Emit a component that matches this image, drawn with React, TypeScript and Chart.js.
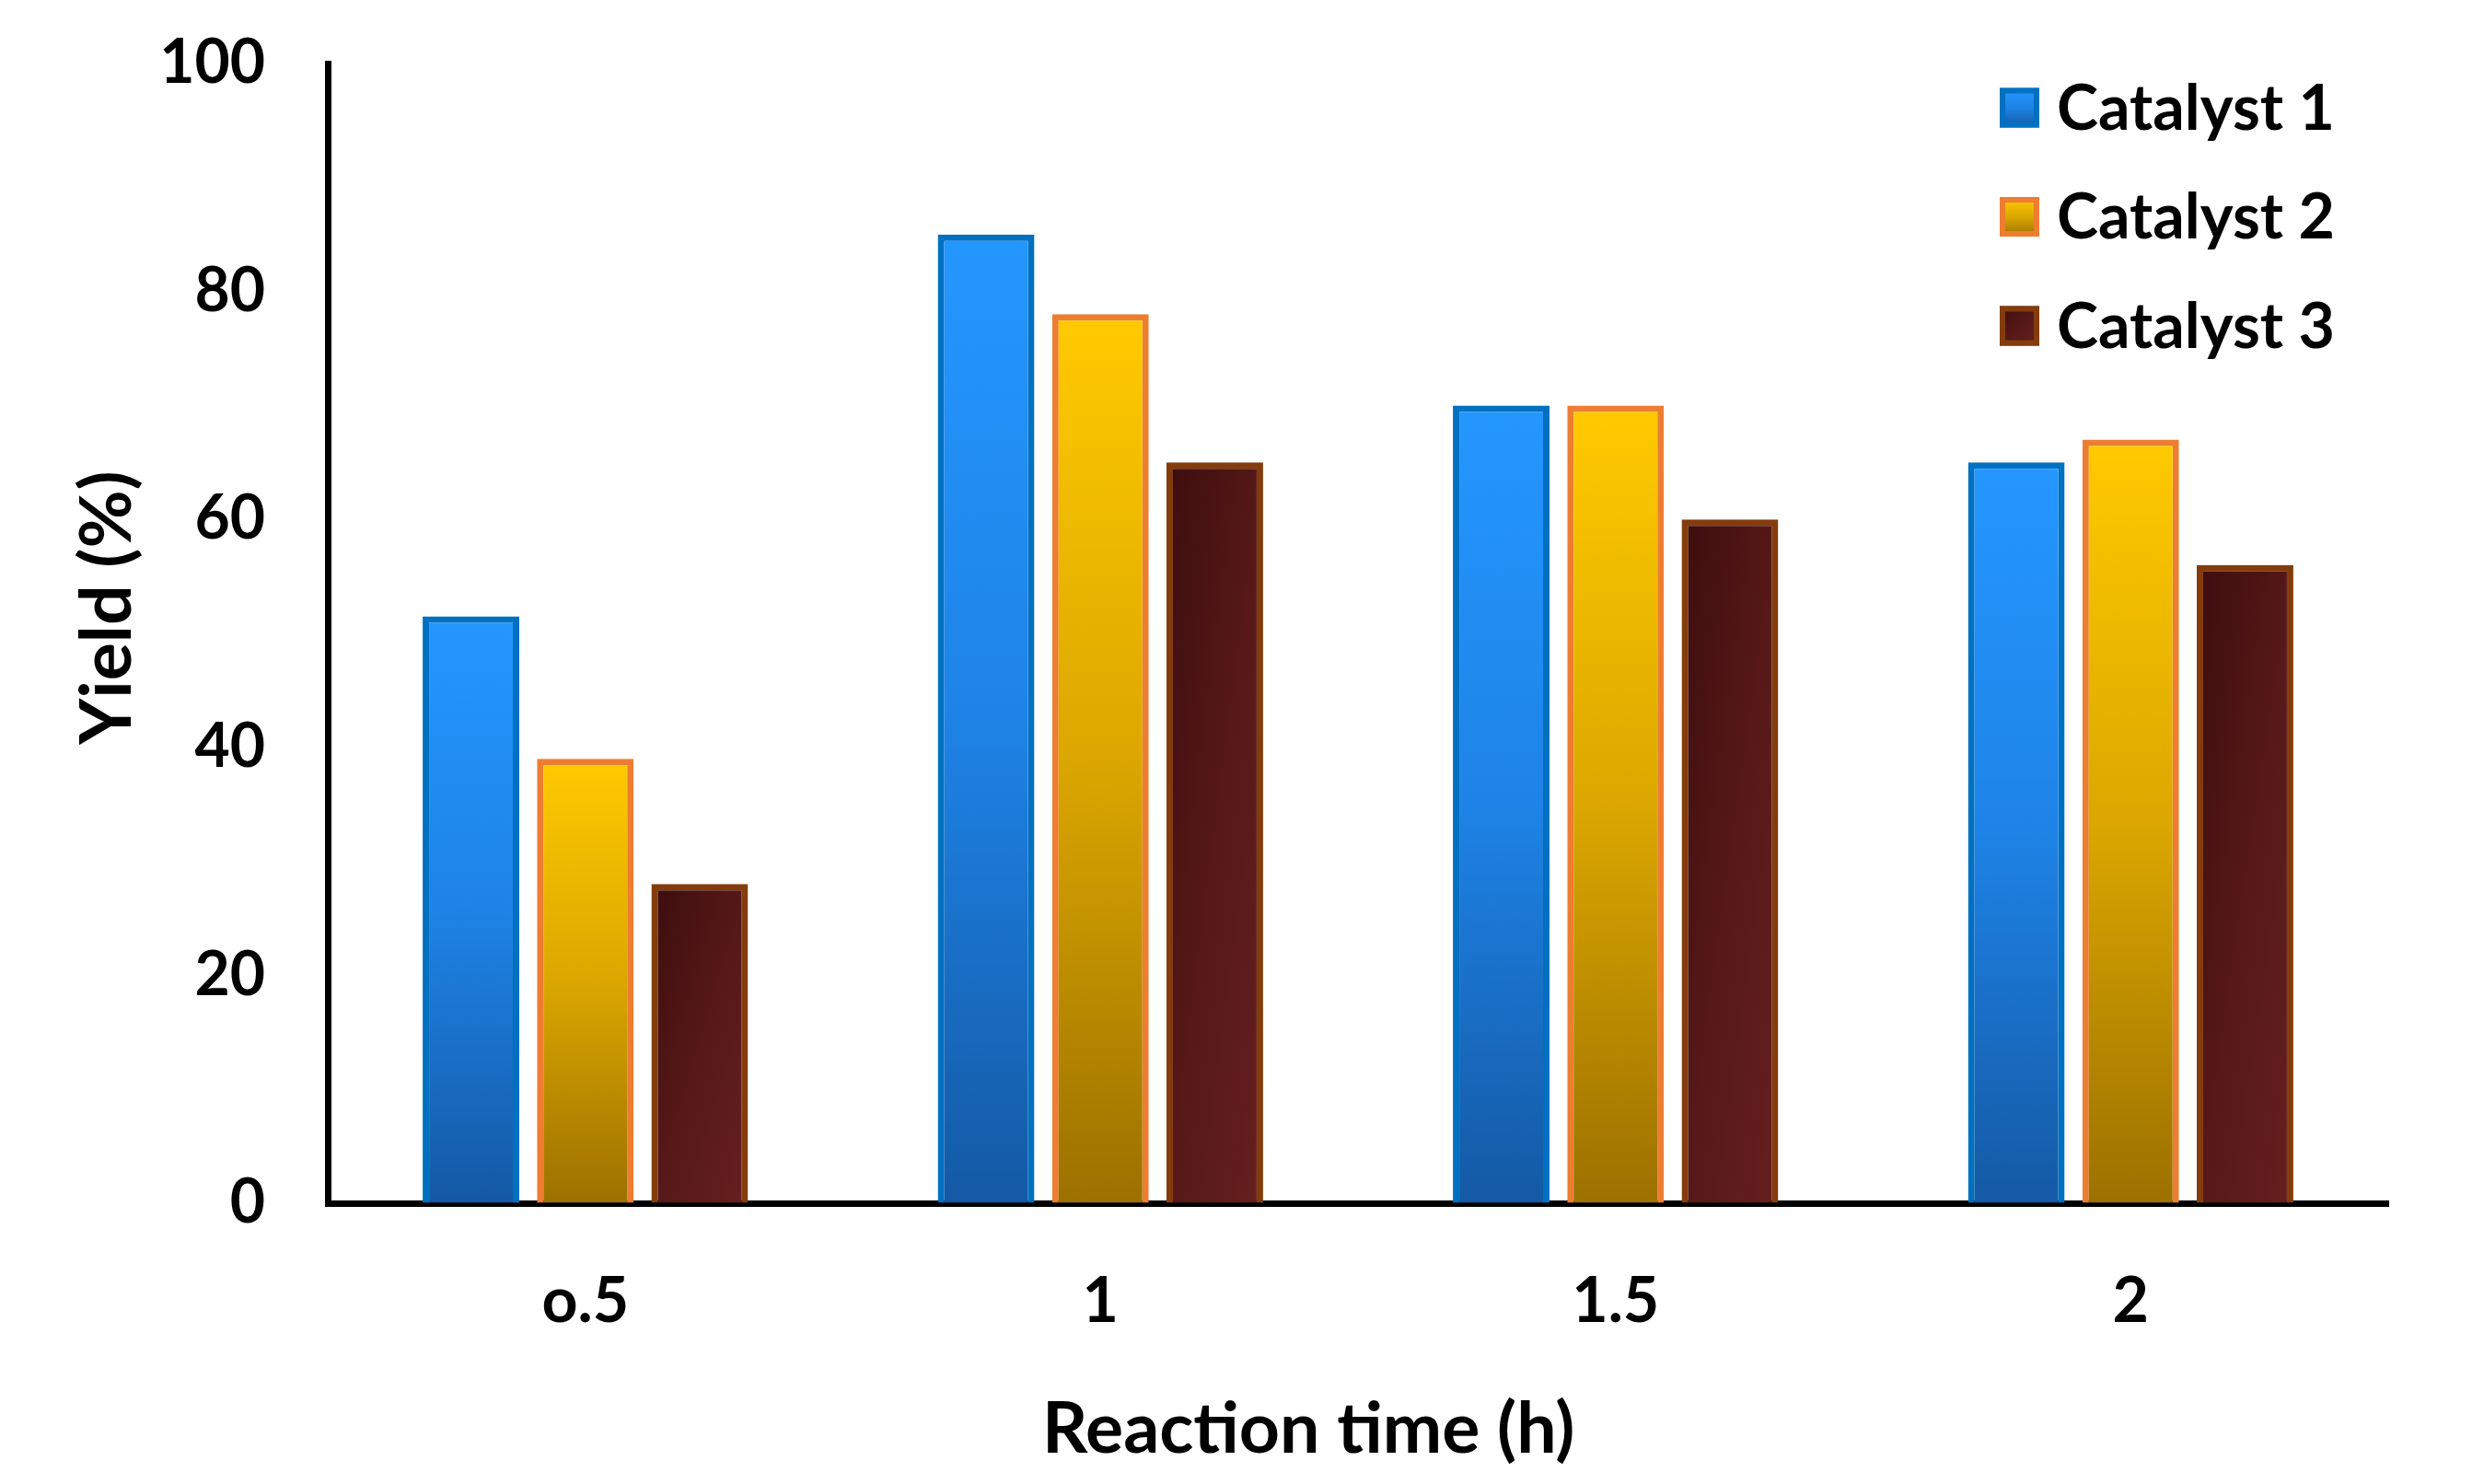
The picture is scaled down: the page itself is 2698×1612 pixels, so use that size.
import React, { useEffect, useRef } from 'react';
import { Chart, registerables } from 'chart.js';

Chart.register(...registerables);

// ---- data ----
const categories = ['o.5', '1', '1.5', '2'];
const seriesNames = ['Catalyst 1', 'Catalyst 2', 'Catalyst 3'];
const catalyst1 = [51.5, 85, 70, 65];
const catalyst2 = [39, 78, 70, 67];
const catalyst3 = [28, 65, 60, 56];
const yTicks = [0, 20, 40, 60, 80, 100];
const xTitle = 'Reaction time (h)';
const yTitle = 'Yield (%)';

// ---- styles ----
const FONT = 'Lato, "Open Sans", "DejaVu Sans", sans-serif';
const borderColors = ['#0070C0', '#ED7D31', '#843C0C'];
const solidColors = ['#2088EE', '#D9A300', '#521717'];

function makeFill(ctx: CanvasRenderingContext2D, s: number, left: number, top: number, right: number, bottom: number) {
  const w = Math.max(1, right - left);
  const h = Math.max(1, bottom - top);
  if (s === 0) {
    const g = ctx.createLinearGradient(left, top, left, bottom);
    g.addColorStop(0, '#2497FF');
    g.addColorStop(0.5, '#1E83E6');
    g.addColorStop(1, '#1459A4');
    return g;
  }
  if (s === 1) {
    const g = ctx.createLinearGradient(left, top, left, bottom);
    g.addColorStop(0, '#FFCA00');
    g.addColorStop(0.5, '#DBA700');
    g.addColorStop(1, '#9C7100');
    return g;
  }
  const d = h * h + w * w;
  const ex = left + (2 * w * h * h) / d;
  const ey = top + (2 * w * w * h) / d;
  const g = ctx.createLinearGradient(left, top, ex, ey);
  g.addColorStop(0, '#3C0D0D');
  g.addColorStop(0.5, '#561818');
  g.addColorStop(1, '#661F1F');
  return g;
}

const barFillPlugin = {
  id: 'barFill',
  beforeDatasetsDraw(chart: any) {
    const ctx = chart.ctx;
    chart.data.datasets.forEach((_ds: any, di: number) => {
      const meta = chart.getDatasetMeta(di);
      meta.data.forEach((bar: any) => {
        const p = bar.getProps(['x', 'y', 'base', 'width'], true);
        const left = p.x - p.width / 2;
        const right = p.x + p.width / 2;
        const top = Math.min(p.y, p.base);
        const bottom = Math.max(p.y, p.base);
        bar.options.backgroundColor = makeFill(ctx, di, left, top, right, bottom);
      });
    });
  },
};

const legendPlugin = {
  id: 'insideLegend',
  afterDatasetsDraw(chart: any) {
    const { ctx, chartArea } = chart;
    const box = 43;
    const bw = 6;
    const boxLeft = chartArea.right - 422;
    const textLeft = chartArea.right - 360;
    const firstY = chartArea.top + 48;
    const step = 118.5;
    ctx.save();
    chart.data.datasets.forEach((ds: any, i: number) => {
      const cy = firstY + i * step;
      const t = cy - box / 2;
      ctx.fillStyle = makeFill(ctx, i, boxLeft, t, boxLeft + box, t + box);
      ctx.fillRect(boxLeft, t, box, box);
      ctx.strokeStyle = borderColors[i];
      ctx.lineWidth = bw;
      ctx.strokeRect(boxLeft + bw / 2, t + bw / 2, box - bw, box - bw);
      ctx.fillStyle = '#000';
      ctx.font = `bold 68px ${FONT}`;
      ctx.textAlign = 'left';
      ctx.textBaseline = 'middle';
      ctx.fillText(ds.label, textLeft, cy + 2);
    });
    ctx.restore();
  },
};

const axisTitlePlugin = {
  id: 'axisTitles',
  afterDraw(chart: any) {
    const { ctx, chartArea } = chart;
    ctx.save();
    ctx.fillStyle = '#000';
    ctx.font = `bold 77px ${FONT}`;
    ctx.textAlign = 'center';
    ctx.textBaseline = 'middle';
    const xw = chartArea.right - chartArea.left;
    ctx.fillText(xTitle, chartArea.left + xw * 0.476, chartArea.bottom + 246);
    ctx.translate(chartArea.left - 239, chartArea.top + 591);
    ctx.rotate(-Math.PI / 2);
    ctx.fillText(yTitle, 0, 0);
    ctx.restore();
  },
};

export default function App() {
  const canvasRef = useRef<HTMLCanvasElement | null>(null);

  useEffect(() => {
    if (!canvasRef.current) return;
    const seriesValues = [catalyst1, catalyst2, catalyst3];
    const chart = new Chart(canvasRef.current, {
      type: 'bar',
      data: {
        labels: categories,
        datasets: seriesNames.map((name, i) => ({
          label: name,
          data: seriesValues[i],
          backgroundColor: () => solidColors[i],
          borderColor: borderColors[i],
          borderWidth: 7,
          borderSkipped: 'start',
          categoryPercentage: 0.666,
          barPercentage: 0.845,
        })),
      },
      options: {
        animation: false,
        responsive: true,
        maintainAspectRatio: false,
        layout: { padding: { top: 61, right: 96, left: 0, bottom: 0 } },
        plugins: {
          legend: { display: false },
          tooltip: { enabled: false },
          title: { display: false },
        },
        scales: {
          x: {
            type: 'category',
            grid: {
              display: true,
              drawOnChartArea: false,
              drawTicks: true,
              tickLength: 66,
              tickColor: 'rgba(0,0,0,0)',
            },
            border: { display: true, color: '#000', width: 7 },
            ticks: {
              color: '#000',
              font: { family: FONT, size: 68, weight: 'bold' },
              padding: 0,
            },
            afterFit: (s: any) => {
              s.height = 297;
            },
          },
          y: {
            min: 0,
            max: 100,
            grid: {
              display: true,
              drawOnChartArea: false,
              drawTicks: true,
              tickLength: 68,
              tickColor: 'rgba(0,0,0,0)',
            },
            border: { display: true, color: '#000', width: 7 },
            ticks: {
              color: '#000',
              font: { family: FONT, size: 66, weight: 'bold' },
              padding: 0,
            },
            afterBuildTicks: (s: any) => {
              s.ticks = yTicks.map((v) => ({ value: v }));
            },
            afterFit: (s: any) => {
              s.width = 348;
            },
          },
        },
      },
      plugins: [barFillPlugin, legendPlugin, axisTitlePlugin],
    } as any);
    return () => chart.destroy();
  }, []);

  return (
    <div style={{ width: '2682px', height: '1596px', position: 'relative' }}>
      <canvas ref={canvasRef} />
    </div>
  );
}
